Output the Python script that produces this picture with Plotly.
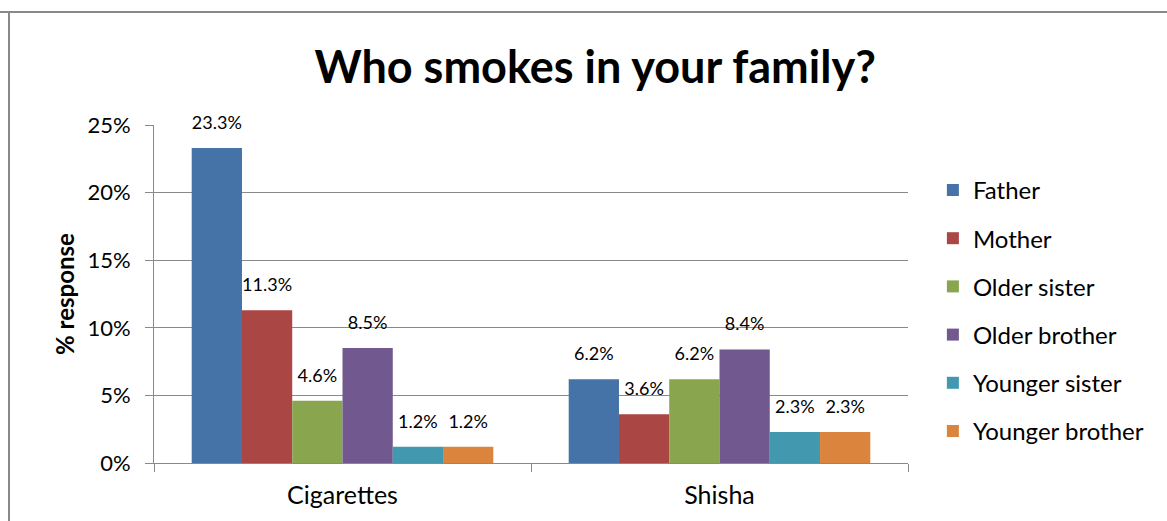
import plotly.graph_objects as go

# Survey answers, % of respondents
categories = ["Cigarettes", "Shisha"]
members = ["Father", "Mother", "Older sister", "Older brother", "Younger sister", "Younger brother"]
father = [23.3, 6.2]
mother = [11.3, 3.6]
older_sister = [4.6, 6.2]
older_brother = [8.5, 8.4]
younger_sister = [1.2, 2.3]
younger_brother = [1.2, 2.3]
y_ticks = [0, 5, 10, 15, 20, 25]

series = [father, mother, older_sister, older_brother, younger_sister, younger_brother]
colors = ["#4572A7", "#AA4643", "#89A54E", "#71588F", "#4198AF", "#DB843D"]

FONT = "Lato"
GRAY = "#898989"
GAP = 0.2

fig = go.Figure()
for name, vals, col in zip(members, series, colors):
    fig.add_trace(go.Bar(
        x=categories, y=vals, name=name, marker=dict(color=col, line=dict(width=0)),
        offsetgroup=name, legendgroup=name,
    ))
# value labels, grouped the same way as the bars and lifted by an invisible marker
for name, vals in zip(members, series):
    fig.add_trace(go.Scatter(
        x=categories, y=vals, mode="markers+text", offsetgroup=name, legendgroup=name,
        marker=dict(size=22, opacity=0), text=[f"{v:.1f}%" for v in vals],
        textposition="top center", textfont=dict(family=FONT, size=18, color="black"),
        showlegend=False, hoverinfo="skip", cliponaxis=False,
    ))

fig.update_layout(
    width=1167, height=521,
    paper_bgcolor="white", plot_bgcolor="white",
    margin=dict(l=154, r=259, t=125, b=58),
    barmode="group", bargap=GAP, bargroupgap=0,
    scattermode="group", scattergap=GAP,
    font=dict(family=FONT, color="black"),
    title=dict(text="<b>Who smokes in your family?</b>", x=0.51, xanchor="center",
               y=0.87, yanchor="middle", font=dict(family=FONT, size=45, color="black")),
    legend=dict(x=1.033, xanchor="left", xref="paper", y=0.45, yanchor="middle",
                font=dict(family=FONT, size=24, color="black"),
                traceorder="grouped", tracegroupgap=14, itemwidth=30),
    showlegend=True,
)

fig.update_yaxes(
    range=[0, 25], tickvals=y_ticks, ticktext=[f"{t}%" for t in y_ticks],
    showgrid=True, gridcolor=GRAY, gridwidth=1,
    showline=True, linecolor=GRAY, linewidth=1,
    ticks="outside", ticklen=8, tickcolor=GRAY, ticklabelstandoff=10,
    tickfont=dict(family=FONT, size=22, color="black"),
    title=dict(text="<b>% response</b>", font=dict(family=FONT, size=24, color="black"), standoff=6),
    zeroline=False,
)
fig.update_xaxes(
    showgrid=False, showline=True, linecolor=GRAY, linewidth=1,
    ticks="outside", ticklen=8, tickcolor=GRAY, tickson="boundaries",
    ticklabelstandoff=10,
    tickfont=dict(family=FONT, size=25, color="black"),
)

# chart frame (top and left edges)
fig.add_shape(type="line", xref="paper", yref="paper", x0=-154/754, x1=1.5, y0=(521-58-12)/338, y1=(521-58-12)/338,
              line=dict(color=GRAY, width=2))
fig.add_shape(type="line", xref="paper", yref="paper", x0=-145/754, x1=-145/754, y0=-1, y1=(521-58-12)/338,
              line=dict(color=GRAY, width=2))

fig.write_html("out.html")
